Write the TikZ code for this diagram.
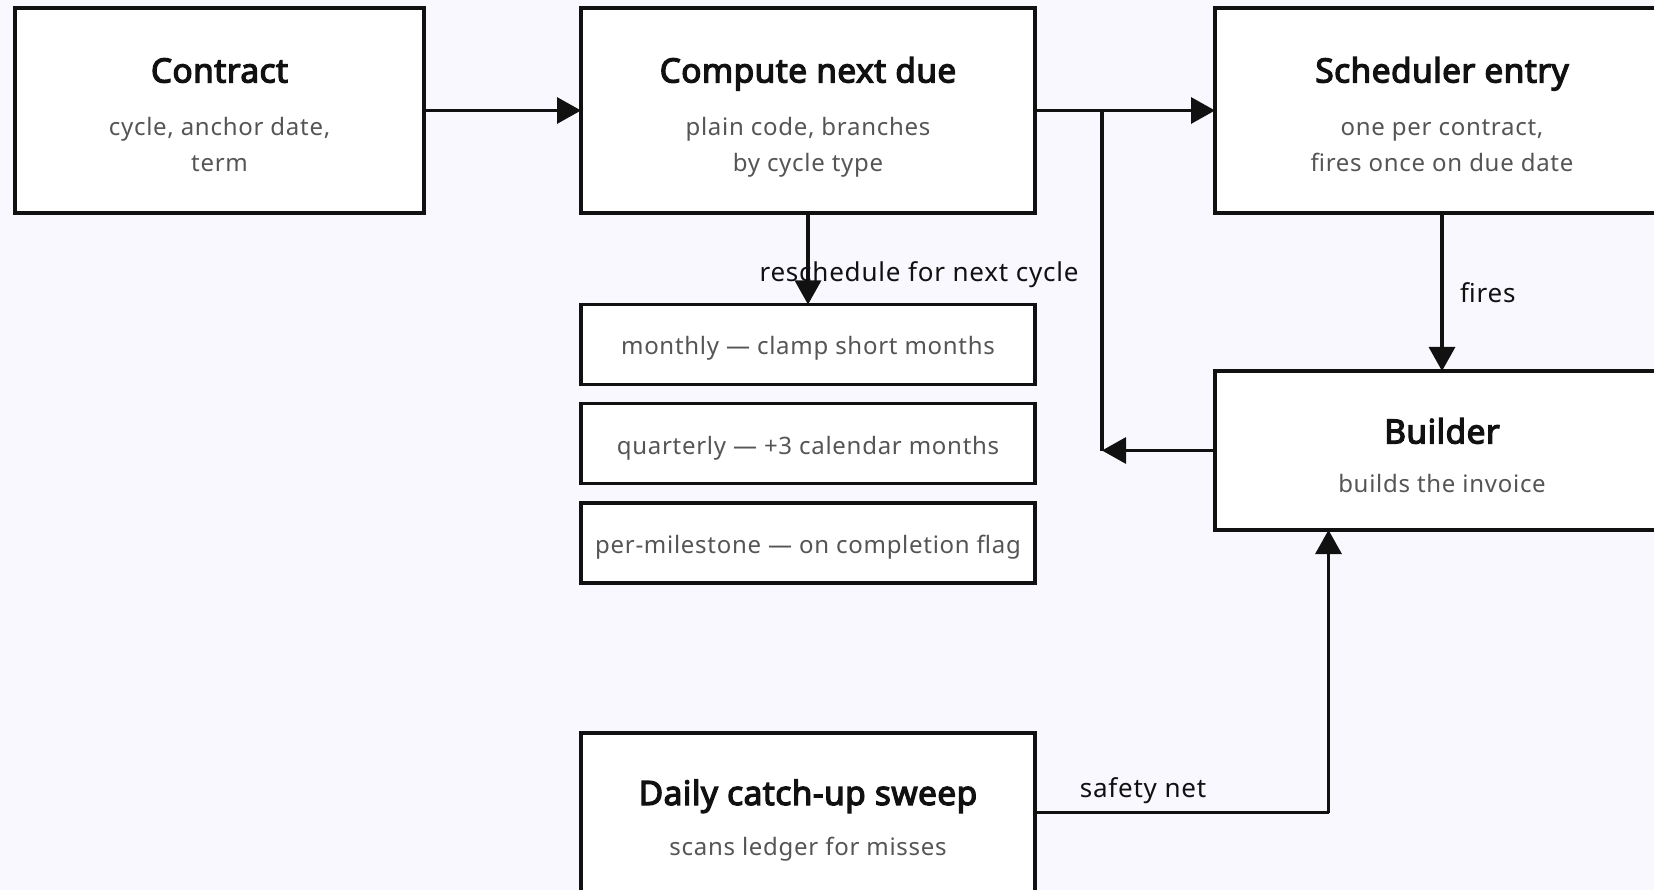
\documentclass[tikz,border=0pt]{standalone}
\usepackage{fontspec}
\setmainfont{Noto Sans}
\newfontfamily\titlefamily{Noto Sans}[FakeBold=3.6, LetterSpace=1.2]
\newfontfamily\bodyfamily{Noto Sans}[LetterSpace=3]
\usetikzlibrary{arrows.meta,calc}
\definecolor{bg}{RGB}{248,248,254}
\definecolor{ink}{RGB}{17,17,17}
\definecolor{subgray}{RGB}{85,85,85}
\begin{document}
\begin{tikzpicture}[x=1pt,y=-1pt,
  box/.style={draw=ink, line width=3.2pt, fill=white, inner sep=0pt, outer sep=0pt},
  bigbox/.style={box, minimum width=454pt, minimum height=205pt},
  smallbox/.style={box, minimum width=454pt, minimum height=80pt},
  midbox/.style={box, minimum width=454pt, minimum height=159pt},
  ttl/.style={font=\titlefamily\fontsize{33.5}{38}\selectfont, text=ink, inner sep=0pt, anchor=base},
  subt/.style={font=\bodyfamily\fontsize{24}{28}\selectfont, text=subgray, inner sep=0pt, anchor=base},
  elabel/.style={font=\bodyfamily\fontsize{26}{30}\selectfont, text=ink, inner sep=0pt, anchor=base},
  link/.style={draw=ink, line width=3.2pt},
  arrow/.style={link, -{Triangle[length=24pt, width=26pt]}}
]
\clip (0,0) rectangle (1654,890);
\fill[bg] (0,0) rectangle (1654,890);

% boxes
\node[box, minimum width=409pt, minimum height=205pt] (contract) at (219.5,110.5) {};
\node[bigbox] (compute) at (808,110.5) {};
\node[bigbox] (sched) at (1442,110.5) {};
\node[smallbox] (monthly) at (808,344.5) {};
\node[smallbox] (quarterly) at (808,443.5) {};
\node[smallbox] (milestone) at (808,543) {};
\node[midbox] (builder) at (1442,450.5) {};
\node[midbox] (daily) at (808,812.5) {};

% box texts
\node[ttl] (contract-t) at (219.5,82.5) {Contract};
\node[subt] (contract-s1) at (219.5,136) {cycle, anchor date,};
\node[subt] (contract-s2) at (219.5,172) {term};

\node[ttl] (compute-t) at (808,82.5) {Compute next due};
\node[subt] (compute-s1) at (808,136) {plain code, branches};
\node[subt] (compute-s2) at (808,172) {by cycle type};

\node[ttl] (sched-t) at (1442,82.5) {Scheduler entry};
\node[subt] (sched-s1) at (1442,136) {one per contract,};
\node[subt] (sched-s2) at (1442,172) {fires once on due date};

\node[subt] (monthly-t) at (808,355) {monthly — clamp short months};
\node[subt] (quarterly-t) at (808,454) {quarterly — +3 calendar months};
\node[subt] (milestone-t) at (808,553.5) {per-milestone — on completion flag};

\node[ttl] (builder-t) at (1442,443.5) {Builder};
\node[subt] (builder-s) at (1442,492) {builds the invoice};

\node[ttl] (daily-t) at (808,805) {Daily catch-up sweep};
\node[subt] (daily-s) at (808,855) {scans ledger for misses};

% connectors
\coordinate (jtop) at (1102,110.5);
\coordinate (jbot) at (1102,450.5);
\coordinate (snet) at (1328.5,812.5);

\draw[arrow] (contract.east) -- (compute.west);
\draw[arrow] (compute.east) -- (sched.west);
\draw[link] (jtop) -- (jbot);
\draw[arrow] (builder.west) -- (jbot);
\draw[arrow] (compute.south) -- (monthly.north);
\draw[arrow] (sched.south) -- (builder.north);
\draw[link] (daily.east) -- (snet);
\draw[arrow] (snet) -- (snet |- builder.south);

% connector labels
\node[elabel] (resched-l) at (919,282) {reschedule for next cycle};
\node[elabel, anchor=base west] (fires-l) at (1460,303) {fires};
\node[elabel] (safety-l) at (1143,797) {safety net};
\end{tikzpicture}
\end{document}
